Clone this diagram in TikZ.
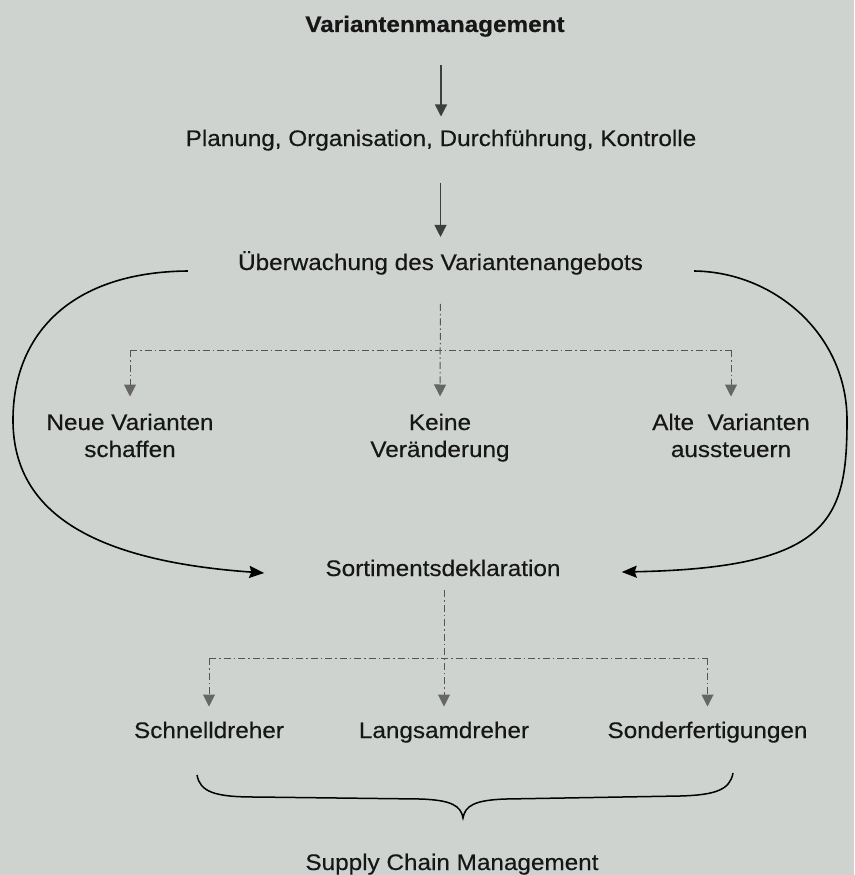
\documentclass[tikz,border=0pt]{standalone}
\usepackage{fontspec}
\setmainfont{Liberation Sans}
\newfontfamily\scanf{Liberation Sans}[FakeBold=0.35]
\usetikzlibrary{arrows.meta}
\definecolor{bgc}{HTML}{CED3D0}
\definecolor{ink}{HTML}{161616}
\definecolor{arrg}{HTML}{3E3E3E}
\definecolor{dashg}{HTML}{555555}
\definecolor{dheadg}{HTML}{666666}
\newcommand\hs[1]{\scalebox{1.08}[1]{#1}}
\begin{document}
\begin{tikzpicture}[x=1pt,y=-1pt,
  lbl/.style={font=\scanf\fontsize{22.5pt}{27pt}\selectfont, text=ink, inner sep=0pt, align=center, anchor=base},
  sarrow/.style={draw=arrg, line width=1.1pt, -{Triangle[length=12pt,width=12pt,color=arrg]}},
  arcline/.style={draw=black, line width=1.6pt, -{Stealth[length=15pt,width=12pt,inset=2pt]}},
  dd/.style={draw=dashg, line width=1pt, dash pattern=on 7pt off 3pt on 1.5pt off 3pt},
  ddarrow/.style={dd, -{Triangle[length=12pt,width=12pt,color=dheadg]}},
  bracepath/.style={draw=black, line width=1.5pt}
]
\useasboundingbox (0,0) rectangle (854,875);
\fill[bgc] (0,0) rectangle (854,875);

% texts
\node[lbl] (title) at (435,32) {\hs{\bfseries Variantenmanagement}};
\node[lbl] (plan) at (441,146) {\hs{Planung, Organisation, Durchführung, Kontrolle}};
\node[lbl] (ueber) at (440.5,270) {\hs{Überwachung des Variantenangebots}};
\node[lbl] (neue) at (130,457) {\hs{Neue Varianten}\\\hs{schaffen}};
\node[lbl] (keine) at (440,457) {\hs{Keine}\\\hs{Veränderung}};
\node[lbl] (alte) at (731,457) {\hs{Alte\ \ Varianten}\\\hs{aussteuern}};
\node[lbl] (sort) at (443,576) {\hs{Sortimentsdeklaration}};
\node[lbl] (schnell) at (209,738) {\hs{Schnelldreher}};
\node[lbl] (langsam) at (444,738) {\hs{Langsamdreher}};
\node[lbl] (sonder) at (707.5,738) {\hs{Sonderfertigungen}};
\node[lbl] (scm) at (452,870) {\hs{Supply Chain Management}};

% solid arrows
\draw[sarrow, shorten <=28pt, shorten >=13pt] (title.south -| plan.north) -- (plan.north);
\draw[sarrow, shorten <=32pt, shorten >=14pt] (plan.south -| ueber.north) -- (ueber.north);

% loops
\draw[arcline] ([xshift=-50pt,yshift=-1pt]ueber.base west)
  .. controls (70,272) and (13,335) .. (13,420)
  .. controls (13,505) and (80,560) .. ([xshift=-61pt,yshift=3pt]sort.base west);
\draw[arcline] ([xshift=51pt,yshift=-1pt]ueber.base east)
  .. controls (775,272) and (847,335) .. (847,420)
  .. controls (847,520) and (830,568) .. ([xshift=61pt,yshift=4pt]sort.base east);

% upper dash-dot distribution
\coordinate (hubA) at (440,350);
\draw[ddarrow, shorten <=29pt, shorten >=17pt] (ueber.south) -- (keine.north);
\draw[dd] (neue.north |- hubA) -- (alte.north |- hubA);
\draw[ddarrow, shorten >=17pt] (neue.north |- hubA) -- (neue.north);
\draw[ddarrow, shorten >=17pt] (alte.north |- hubA) -- (alte.north);

% lower dash-dot distribution
\coordinate (hubB) at (443,658);
\draw[ddarrow, shorten <=14pt, shorten >=15pt] (sort.south -| langsam.north) -- (langsam.north);
\draw[dd] (schnell.north |- hubB) -- (sonder.north |- hubB);
\draw[ddarrow, shorten >=15pt] (schnell.north |- hubB) -- (schnell.north);
\draw[ddarrow, shorten >=15pt] (sonder.north |- hubB) -- (sonder.north);

% brace
\draw[bracepath] (197,775) .. controls (200,792) and (215,797) .. (255,797)
  -- (420,799) .. controls (452,800) and (461,806) .. (463,818)
  .. controls (465,806) and (474,800) .. (506,799)
  -- (680,796) .. controls (715,795) and (730,790) .. (733,773);
\end{tikzpicture}
\end{document}
